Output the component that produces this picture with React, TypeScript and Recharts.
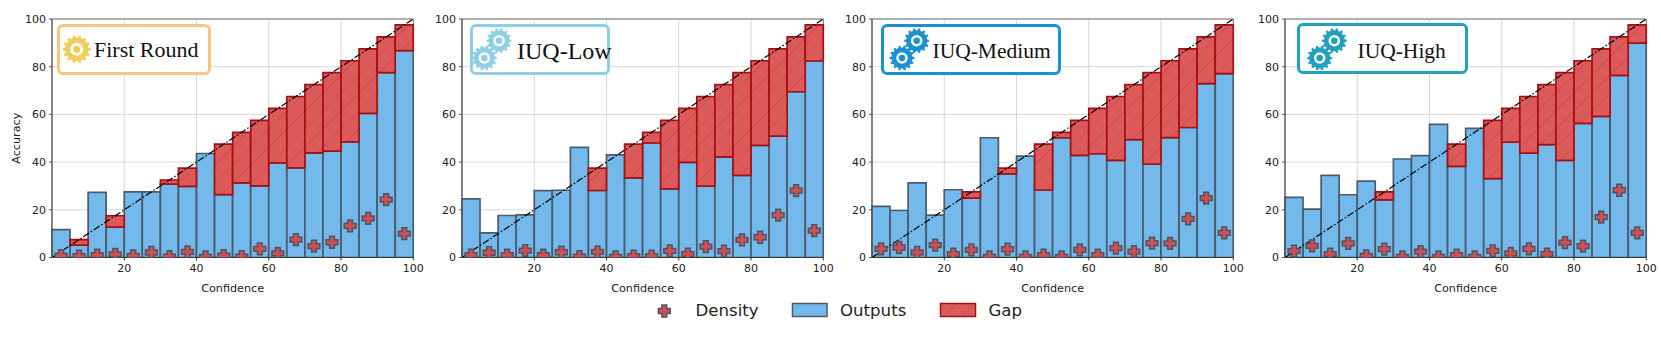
import {
  Bar,
  CartesianGrid,
  ComposedChart,
  ReferenceArea,
  ReferenceLine,
  Scatter,
  XAxis,
  YAxis,
} from 'recharts'

const bins = ['0-5', '5-10', '10-15', '15-20', '20-25', '25-30', '30-35', '35-40', '40-45', '45-50', '50-55', '55-60', '60-65', '65-70', '70-75', '75-80', '80-85', '85-90', '90-95', '95-100']
const binMids = [2.5, 7.5, 12.5, 17.5, 22.5, 27.5, 32.5, 37.5, 42.5, 47.5, 52.5, 57.5, 62.5, 67.5, 72.5, 77.5, 82.5, 87.5, 92.5, 97.5]
const xTicks = [20, 40, 60, 80, 100]
const yTicks = [0, 20, 40, 60, 80, 100]

const firstRoundOutputs = [11.7, 5.2, 27.3, 12.7, 27.5, 27.5, 30.8, 29.8, 43.6, 26.4, 31.3, 30, 39.7, 37.6, 43.9, 44.6, 48.5, 60.4, 77.5, 86.7]
const firstRoundDensity = [0.8, 0.6, 1, 1.3, 0.7, 2.1, 0.4, 2.4, 0.2, 0.8, 0.4, 3.6, 1.7, 7.5, 4.8, 6.4, 13.3, 16.4, 24.3, 10]
const lowOutputs = [24.6, 10.3, 17.6, 17.9, 28, 28.2, 46.2, 28.1, 43, 33.4, 48, 28.8, 39.9, 29.9, 42.2, 34.4, 47, 50.9, 69.5, 82.4]
const lowDensity = [1, 2, 1, 2.9, 1, 2.2, 0.4, 2.4, 0.2, 0.6, 0.6, 2.8, 1.4, 4.6, 2.7, 7.4, 8.5, 17.8, 28, 11.3]
const mediumOutputs = [21.4, 19.7, 31.3, 17.8, 28.4, 24.9, 50.2, 35.1, 42.5, 28.3, 50.2, 42.8, 43.5, 40.7, 49.4, 39.2, 50.3, 54.5, 72.9, 77.1]
const mediumDensity = [3.6, 4.2, 2.1, 5.2, 1.4, 3.2, 0.3, 3.5, 0.3, 1, 0.3, 3.2, 1, 3.9, 2.5, 6, 5.9, 16.2, 24.9, 10.3]
const highOutputs = [25.2, 20.3, 34.4, 26.3, 32, 24.2, 41.3, 42.7, 55.8, 38.2, 54.1, 33.1, 48.4, 43.8, 47.3, 40.7, 56.2, 59.2, 76.4, 89.9]
const highDensity = [2.7, 4.9, 1.4, 5.9, 0.7, 3.5, 0.3, 2.5, 0.2, 1, 0.3, 2.8, 1.7, 3.6, 1.4, 6.2, 4.8, 16.9, 28.2, 10.3]

const BLUE = '#74b9ec'
const BLUE_EDGE = '#4a5c6c'
const RED = '#dc5a5a'
const RED_EDGE = '#a80f12'
const MARKER = '#cf4f55'
const MARKER_EDGE = '#4c5663'
const FONT = '"DejaVu Sans", sans-serif'

const PlusMarker = ({ cx, cy }: any) => {
  const a = 2.4
  const b = 5.9
  const d = `M${cx - a} ${cy - b}H${cx + a}V${cy - a}H${cx + b}V${cy + a}H${cx + a}V${cy + b}H${cx - a}V${cy + a}H${cx - b}V${cy - a}H${cx - a}Z`
  return <path d={d} fill={MARKER} stroke={MARKER_EDGE} strokeWidth={1.5} />
}

// cog icon used in the badges
const Gear = ({ cx, cy, r, color, hole }: any) => {
  const teeth = 14
  let d = ''
  for (let i = 0; i < teeth; i++) {
    const step = (Math.PI * 2) / teeth
    const t = i * step
    const pts = [
      [r * 0.84, t - step * 0.5],
      [r * 0.84, t - step * 0.28],
      [r, t - step * 0.18],
      [r, t + step * 0.18],
      [r * 0.84, t + step * 0.28],
    ]
    pts.forEach(([rad, ang], j) => {
      d += `${i === 0 && j === 0 ? 'M' : 'L'}${cx + rad * Math.cos(ang)} ${cy + rad * Math.sin(ang)}`
    })
  }
  return (
    <g>
      <path d={d + 'Z'} fill={color} />
      <circle cx={cx} cy={cy} r={r * 0.46} fill="#fff" />
      <circle cx={cx} cy={cy} r={r * 0.26} fill={hole} />
    </g>
  )
}

interface Badge {
  label: string
  color: string
  gearColor: string
  left: number
  top: number
  width: number
  textX: number
  textY: number
  fontSize: number
  gears: { cx: number; cy: number; r: number }[]
}

const panels: { id: string; plotLeft: number; outputs: number[]; density: number[]; badge: Badge }[] = [
  {
    id: 'first',
    plotLeft: 51.5,
    outputs: firstRoundOutputs,
    density: firstRoundDensity,
    badge: { label: 'First Round', color: '#f2c97d', gearColor: '#f3cd5c', left: 56.5, top: 24, width: 154.5, textX: 94, textY: 49, fontSize: 22, gears: [{ cx: 76.7, cy: 49.3, r: 14 }] },
  },
  {
    id: 'low',
    plotLeft: 461.7,
    outputs: lowOutputs,
    density: lowDensity,
    badge: { label: 'IUQ-Low', color: '#8fcfe6', gearColor: '#8fcfe6', left: 470, top: 24, width: 140, textX: 517, textY: 51, fontSize: 24, gears: [{ cx: 484.3, cy: 58, r: 12.5 }, { cx: 499, cy: 40.7, r: 12.5 }] },
  },
  {
    id: 'medium',
    plotLeft: 872.3,
    outputs: mediumOutputs,
    density: mediumDensity,
    badge: { label: 'IUQ-Medium', color: '#1a92d0', gearColor: '#1a92d0', left: 881, top: 24, width: 179.5, textX: 932.5, textY: 51, fontSize: 21.5, gears: [{ cx: 902, cy: 58, r: 12.5 }, { cx: 916.7, cy: 40.7, r: 12.5 }] },
  },
  {
    id: 'high',
    plotLeft: 1285.3,
    outputs: highOutputs,
    density: highDensity,
    badge: { label: 'IUQ-High', color: '#22a0bd', gearColor: '#22a0bd', left: 1297, top: 23, width: 170.5, textX: 1357.5, textY: 51, fontSize: 21.5, gears: [{ cx: 1319.7, cy: 58, r: 12.5 }, { cx: 1334.3, cy: 40.7, r: 12.5 }] },
  },
]

const HatchDefs = ({ id }: { id: string }) => (
  <defs>
    <pattern id={id} width={18} height={18} patternUnits="userSpaceOnUse">
      <rect width={18} height={18} fill={RED} />
      <path d="M-2 20L20 -2" stroke="#b03436" strokeWidth={0.6} opacity={0.7} />
    </pattern>
  </defs>
)

const Panel = ({ id, plotLeft, outputs, density, showY }: any) => {
  const rows = bins.map((bin, i) => ({
    bin,
    conf: binMids[i],
    output: outputs[i],
    gap: Math.max(0, binMids[i] - outputs[i]),
    density: density[i],
  }))
  const tick = { fill: '#222', fontSize: 11, fontFamily: FONT }
  return (
    <div style={{ position: 'absolute', left: plotLeft - 50, top: 0 }}>
      <ComposedChart
        width={50 + 361.3 + 14}
        height={320}
        data={rows}
        barCategoryGap={0}
        margin={{ top: 19, right: 14, left: 0, bottom: 0 }}
      >
        <HatchDefs id={`hatch-${id}`} />
        <CartesianGrid xAxisId="num" stroke="#d8d8d8" strokeWidth={1} />
        <XAxis xAxisId="bins" dataKey="bin" type="category" hide height={0} />
        <XAxis
          xAxisId="num"
          dataKey="conf"
          type="number"
          domain={[0, 100]}
          ticks={xTicks}
          allowDataOverflow
          stroke="#333"
          tick={tick}
          tickSize={3}
          tickMargin={4}
          height={62.5}
          interval={0}
          label={{ value: 'Confidence', position: 'insideBottom', offset: 28, fill: '#222', fontSize: 11.2, fontFamily: FONT }}
        />
        <YAxis
          dataKey="density"
          type="number"
          domain={[0, 100]}
          ticks={yTicks}
          allowDataOverflow
          width={50}
          stroke="#555"
          tick={tick}
          tickSize={3}
          tickMargin={3}
          interval={0}
          label={showY ? { value: 'Accuracy', angle: -90, position: 'insideLeft', offset: 14, fill: '#222', fontSize: 11.2, fontFamily: FONT, style: { textAnchor: 'middle' } } : undefined}
        />
        <Bar xAxisId="bins" dataKey="output" stackId="a" fill={BLUE} stroke={BLUE_EDGE} strokeWidth={1.7} isAnimationActive={false} />
        <Bar xAxisId="bins" dataKey="gap" stackId="a" fill={`url(#hatch-${id})`} stroke={RED_EDGE} strokeWidth={1.7} isAnimationActive={false} />
        <ReferenceArea xAxisId="num" x1={0} x2={100} y1={0} y2={100} fill="none" stroke="#777" strokeWidth={1} />
        <ReferenceLine
          xAxisId="num"
          segment={[{ x: 0, y: 0 }, { x: 100, y: 100 }]}
          stroke="#000"
          strokeWidth={1.2}
          strokeDasharray="7 2 1.5 2"
        />
        <Scatter xAxisId="num" dataKey="density" shape={PlusMarker} isAnimationActive={false} />
      </ComposedChart>
    </div>
  )
}

const BadgeBox = ({ badge }: { badge: Badge }) => (
  <>
    <div
      style={{
        position: 'absolute',
        left: badge.left,
        top: badge.top,
        width: badge.width,
        height: 51,
        boxSizing: 'border-box',
        border: `3px solid ${badge.color}`,
        borderRadius: 6,
        background: '#fff',
      }}
    />
    <svg width={1661} height={350} style={{ position: 'absolute', left: 0, top: 0, pointerEvents: 'none' }}>
      {badge.gears.map((g, i) => (
        <Gear key={i} {...g} color={badge.gearColor} hole={badge.gearColor} />
      ))}
      <text x={badge.textX} y={badge.textY} dominantBaseline="central" fontFamily='"Liberation Serif", serif' fontSize={badge.fontSize} fill="#111">
        {badge.label}
      </text>
    </svg>
  </>
)

const FigureLegend = () => (
  <svg width={1661} height={350} style={{ position: 'absolute', left: 0, top: 0, pointerEvents: 'none' }}>
    <defs>
      <pattern id="hatch-legend" width={18} height={18} patternUnits="userSpaceOnUse">
        <rect width={18} height={18} fill={RED} />
        <path d="M-2 20L20 -2" stroke="#b03436" strokeWidth={0.6} opacity={0.7} />
      </pattern>
    </defs>
    <PlusMarker cx={664.3} cy={311} />
    <text x={695.5} y={310} dominantBaseline="central" fontFamily={FONT} fontSize={16.6} fill="#222">Density</text>
    <rect x={792.5} y={303.5} width={34.5} height={13} fill={BLUE} stroke={BLUE_EDGE} strokeWidth={1.5} />
    <text x={840} y={310} dominantBaseline="central" fontFamily={FONT} fontSize={16.6} fill="#222">Outputs</text>
    <rect x={940.5} y={303.5} width={35} height={13} fill="url(#hatch-legend)" stroke={RED_EDGE} strokeWidth={1.5} />
    <text x={988.5} y={310} dominantBaseline="central" fontFamily={FONT} fontSize={16.6} fill="#222">Gap</text>
  </svg>
)

export default function App() {
  return (
    <div style={{ position: 'absolute', left: 0, top: 0, width: 1661, height: 350, background: '#fff', overflow: 'hidden' }}>
      {panels.map((p, i) => (
        <Panel key={p.id} id={p.id} plotLeft={p.plotLeft} outputs={p.outputs} density={p.density} showY={i === 0} />
      ))}
      {panels.map((p) => (
        <BadgeBox key={p.id} badge={p.badge} />
      ))}
      <FigureLegend />
    </div>
  )
}
